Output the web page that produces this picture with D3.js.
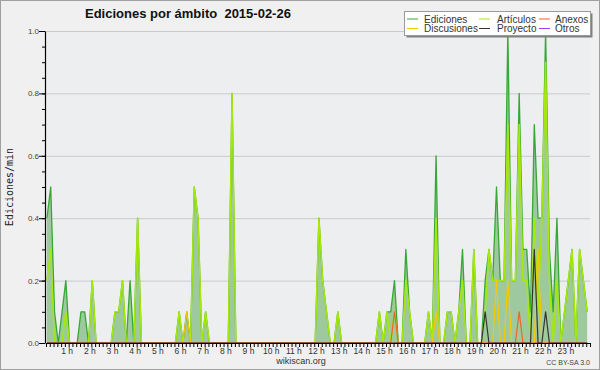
<!DOCTYPE html>
<html>
<head>
<meta charset="utf-8">
<script src="https://cdn.jsdelivr.net/npm/d3@7"></script>
<style>
  body { margin: 0; background: #f0f0f0; }
  svg { display: block; }
  text { font-family: "Liberation Sans", Arial, sans-serif; }
</style>
</head>
<body>
<script>
// edits per minute, one value per 10 minutes (6 per hour), 2015-02-26
let ediciones = [
  0.4,0.5,0.1,0,0.1,0.2,   0,0,0,0.1,0.1,0,     0.2,0,0,0,0,0,       0.1,0.1,0.2,0,0.2,0,
  0.4,0,0,0,0,0,           0,0,0,0,0,0.1,       0,0.1,0,0.5,0.4,0,   0.1,0,0,0,0,0,
  0,0.8,0,0,0,0,           0,0,0,0,0,0,         0,0,0,0,0,0,         0,0,0,0,0,0,
  0.4,0.2,0.1,0,0,0.1,     0,0,0,0,0,0,         0,0,0,0,0.1,0,       0.1,0.1,0.2,0,0,0.3,
  0.1,0,0,0,0,0.1,         0,0.6,0,0,0.1,0.1,   0,0.1,0.3,0,0,0.3,   0,0,0.2,0.3,0.2,0.5,
  0.2,0.2,1.0,0.2,0.2,0.8, 0.3,0.3,0.1,0.7,0.4,0.4, 1.0,0.3,0.1,0.4,0,0.1, 0.2,0.3,0,0.3,0.2,0.1
];
let articulos = [
  0.2,0.3,0,0,0,0.1,       0,0,0,0,0,0,         0.2,0,0,0,0,0,       0.1,0.1,0.2,0,0,0,
  0.4,0,0,0,0,0,           0,0,0,0,0,0.1,       0,0,0,0.5,0.4,0,     0.1,0,0,0,0,0,
  0,0.8,0,0,0,0,           0,0,0,0,0,0,         0,0,0,0,0,0,         0,0,0,0,0,0,
  0.4,0.2,0.1,0,0,0.1,     0,0,0,0,0,0,         0,0,0,0,0.1,0,       0.1,0,0.1,0,0,0.2,
  0.1,0,0,0,0,0.1,         0,0.4,0,0,0.1,0.1,   0,0.1,0.2,0,0,0.3,   0,0,0.1,0.3,0.2,0.2,
  0.2,0.2,0.7,0.2,0.2,0.7, 0.2,0.2,0,0.4,0.1,0.4, 0.9,0.2,0,0.2,0,0.1, 0.2,0.3,0,0.3,0.2,0.1
];
let anexos = [
  0,0,0,0,0,0, 0,0,0,0,0,0, 0,0,0,0,0,0, 0,0,0,0,0,0,
  0,0,0,0,0,0, 0,0,0,0,0,0, 0,0,0,0,0,0, 0,0,0,0,0,0,
  0,0,0,0,0,0, 0,0,0,0,0,0, 0,0,0,0,0,0, 0,0,0,0,0,0,
  0,0,0,0,0,0, 0,0,0,0,0,0, 0,0,0,0,0,0, 0,0,0.1,0,0,0,
  0,0,0,0,0,0, 0,0,0,0,0,0, 0,0,0,0,0,0, 0,0,0,0,0,0,
  0,0,0,0,0,0.1, 0,0,0,0,0,0, 0,0,0,0,0,0, 0,0,0,0,0,0
];
let discusiones = [
  0,0,0,0,0,0, 0,0,0,0,0,0, 0,0,0,0,0,0, 0,0,0,0,0,0,
  0,0,0,0,0,0, 0,0,0,0,0,0, 0,0.1,0,0,0,0, 0,0,0,0,0,0,
  0,0,0,0,0,0, 0,0,0,0,0,0, 0,0,0,0,0,0, 0,0,0,0,0,0,
  0,0,0,0,0,0, 0,0,0,0,0,0, 0,0,0,0,0,0, 0,0,0,0,0,0,
  0,0,0,0,0,0, 0,0.1,0,0,0,0, 0,0,0,0,0,0, 0,0,0,0,0,0.2,
  0,0,0.2,0,0,0, 0,0,0,0,0.3,0, 0,0,0,0,0,0, 0,0,0,0,0,0
];
let proyecto = [
  0,0,0,0,0,0, 0,0,0,0,0,0, 0,0,0,0,0,0, 0,0,0,0,0,0,
  0,0,0,0,0,0, 0,0,0,0,0,0, 0,0,0,0,0,0, 0,0,0,0,0,0,
  0,0,0,0,0,0, 0,0,0,0,0,0, 0,0,0,0,0,0, 0,0,0,0,0,0,
  0,0,0,0,0,0, 0,0,0,0,0,0, 0,0,0,0,0,0, 0,0,0,0,0,0,
  0,0,0,0,0,0, 0,0,0,0,0,0, 0,0,0,0,0,0, 0,0,0.1,0,0,0,
  0,0,0,0,0,0, 0,0,0,0.3,0,0, 0.1,0,0,0,0,0, 0,0,0,0,0,0
];
let otros = [
  0,0,0,0,0,0, 0,0,0,0,0,0, 0,0,0,0,0,0, 0,0,0,0,0,0,
  0,0,0,0,0,0, 0,0,0,0,0,0, 0,0,0,0,0,0, 0,0,0,0,0,0,
  0,0,0,0,0,0, 0,0,0,0,0,0, 0,0,0,0,0,0, 0,0,0,0,0,0,
  0,0,0,0,0,0, 0,0,0,0,0,0, 0,0,0,0,0,0, 0,0,0,0,0,0,
  0,0,0,0,0,0, 0,0,0,0,0,0, 0,0,0,0,0,0, 0,0,0,0,0,0,
  0,0,0,0,0,0, 0,0,0,0,0,0, 0,0,0,0,0,0, 0,0,0,0,0,0
];

let hourTicks = d3.range(1, 24);
let yLabelTicks = [0, 0.2, 0.4, 0.6, 0.8, 1.0];
let legendNames = ["Ediciones", "Artículos", "Anexos", "Discusiones", "Proyecto", "Otros"];

let colors = {
  Ediciones: "#36a836",
  "Artículos": "#a6e80c",
  Anexos: "#f06424",
  Discusiones: "#f7c800",
  Proyecto: "#333333",
  Otros: "#a040ff"
};

let width = 600,
    height = 370;

let x = d3.scaleLinear().domain([0, 24]).range([46, 590]);
let y = d3.scaleLinear().domain([0, 1]).range([343, 31]);

// each 10 minute bin sits a quarter step into its slot
let binX = (d, i) => x((i + 0.25) / 6);

let svg = d3.select("body").append("svg")
    .attr("width", width)
    .attr("height", height);

svg.append("rect")
    .attr("x", 0.5).attr("y", 0.5)
    .attr("width", width - 1).attr("height", height - 1)
    .attr("fill", "#f0f0f0")
    .attr("stroke", "#a0a0a0");

svg.append("rect")
    .attr("x", x(0)).attr("y", y(1))
    .attr("width", x(24) - x(0)).attr("height", y(0) - y(1))
    .attr("fill", "#edeef0");

// grid
let grid = svg.append("g")
    .attr("transform", `translate(${x(0) - 1},0)`)
    .call(d3.axisLeft(y).tickValues([0.2, 0.4, 0.6, 0.8, 1.0]).tickSize(-(x(24) - x(0)) - 1).tickFormat(""));
grid.select(".domain").remove();
grid.selectAll("line").attr("stroke", "#cacaca");

// total area
let area = d3.area()
    .x(binX)
    .y0(y(0))
    .y1(d => y(d));

svg.append("path")
    .attr("d", area(ediciones))
    .attr("fill", "#9ec99e");

let line = d3.line().x(binX).y(d => y(d));

let series = [
  ["Ediciones", ediciones, 1.3],
  ["Artículos", articulos, 1.5],
  ["Otros", otros, 1.2],
  ["Discusiones", discusiones, 1.2],
  ["Anexos", anexos, 1.2],
  ["Proyecto", proyecto, 1.2]
];

series.forEach(([name, values, w]) => {
  svg.append("path")
      .attr("d", line(values))
      .attr("fill", "none")
      .attr("stroke", colors[name])
      .attr("stroke-width", w)
      .attr("stroke-linejoin", "round");
});

// x axis: 10 minute ticks, hour labels
let xMinor = svg.append("g")
    .attr("transform", `translate(0,${y(0)})`)
    .call(d3.axisBottom(x).tickValues(d3.range(0, 24.01, 1 / 6)).tickSize(4).tickSizeOuter(0).tickFormat(""));
xMinor.selectAll("line").attr("stroke", "#000");
xMinor.select(".domain").attr("stroke", "#000").attr("stroke-width", 1.2);

let xLabels = svg.append("g")
    .attr("transform", `translate(0,${y(0)})`)
    .call(d3.axisBottom(x).tickValues(hourTicks).tickSize(0).tickFormat(d => d + " h"));
xLabels.select(".domain").remove();
xLabels.selectAll("text")
    .attr("y", 10.5)
    .attr("dy", null)
    .attr("dx", -2)
    .attr("fill", "#333")
    .style("font-size", "8.5px")
    .style("font-family", "Liberation Sans, Arial, sans-serif");

// y axis
let yMinor = svg.append("g")
    .attr("transform", `translate(${x(0) - 1},0)`)
    .call(d3.axisLeft(y).tickValues(d3.range(0, 1.001, 0.05)).tickSize(3).tickSizeOuter(0).tickFormat(""));
yMinor.selectAll("line").attr("stroke", "#000");
yMinor.select(".domain").attr("stroke", "#000").attr("stroke-width", 1.2);

let yMajor = svg.append("g")
    .attr("transform", `translate(${x(0) - 1},0)`)
    .call(d3.axisLeft(y).tickValues(yLabelTicks).tickSize(6).tickPadding(0).tickFormat(d3.format(".1f")));
yMajor.select(".domain").remove();
yMajor.selectAll("line").attr("stroke", "#000");
yMajor.selectAll("text")
    .attr("fill", "#444")
    .style("font-size", "8px")
    .style("font-family", "Liberation Sans, Arial, sans-serif");

svg.append("text")
    .attr("transform", `translate(13,${(y(0) + y(1)) / 2}) rotate(-90)`)
    .attr("text-anchor", "middle")
    .style("font-family", "DejaVu Sans Mono, monospace")
    .style("font-size", "10px")
    .attr("fill", "#222")
    .text("Ediciones/min");

// title
svg.append("text")
    .attr("x", 85).attr("y", 18)
    .style("font-weight", "bold")
    .style("font-size", "13px")
    .attr("fill", "#111")
    .attr("xml:space", "preserve")
    .text("Ediciones por ámbito  2015-02-26");

// footer
svg.append("text")
    .attr("x", 301).attr("y", 364)
    .attr("text-anchor", "middle")
    .style("font-size", "9px")
    .attr("fill", "#333")
    .text("wikiscan.org");

svg.append("text")
    .attr("x", 590).attr("y", 364.5)
    .attr("text-anchor", "end")
    .style("font-size", "7px")
    .attr("fill", "#444")
    .text("CC BY-SA 3.0");

// legend
let legend = svg.append("g");
legend.append("rect")
    .attr("x", 406.5).attr("y", 13.5)
    .attr("width", 186).attr("height", 24)
    .attr("fill", "#808080");
legend.append("rect")
    .attr("x", 404.5).attr("y", 11.5)
    .attr("width", 186).attr("height", 24)
    .attr("fill", "#fff")
    .attr("stroke", "#9a9a9a");

let colX = [407, 479, 539],
    textX = [424, 497, 555],
    rowLineY = [19, 28.5],
    rowTextY = [22.5, 32];

legendNames.forEach((name, k) => {
  let c = k % 3, r = Math.floor(k / 3);
  legend.append("line")
      .attr("x1", colX[c]).attr("x2", colX[c] + 11)
      .attr("y1", rowLineY[r]).attr("y2", rowLineY[r])
      .attr("stroke", colors[name])
      .attr("stroke-width", 1);
  legend.append("text")
      .attr("x", textX[c]).attr("y", rowTextY[r])
      .style("font-size", "10px")
      .attr("fill", "#333")
      .text(name);
});
</script>
</body>
</html>
